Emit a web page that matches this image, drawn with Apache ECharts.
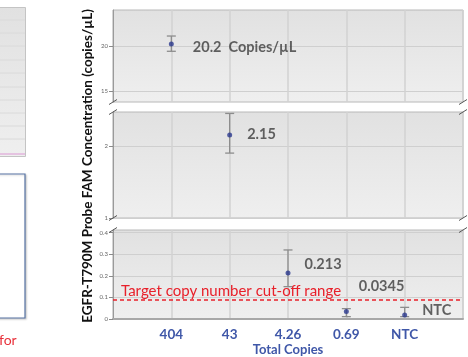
<!DOCTYPE html>
<html>
<head>
<meta charset="utf-8">
<script src="https://cdn.jsdelivr.net/npm/echarts@6/dist/echarts.min.js"></script>
<style>
  html, body { margin: 0; padding: 0; background: #ffffff; }
  #chart { width: 468px; height: 357px; }
</style>
</head>
<body>
<div id="chart"></div>
<script>
// ---- data ----
const categories = ['404', '43', '4.26', '0.69', 'NTC'];
const concentration = [20.2, 2.15, 0.213, 0.0345, 0.018];
const ciLow = [19.4, 1.9, 0.15, 0.011, 0.011];
const ciHigh = [21.1, 2.45, 0.32, 0.048, 0.054];
const pointLabels = ['20.2  Copies/\u00b5L', '2.15', '0.213', '0.0345', 'NTC'];
const cutoff = 0.085;
const cutoffLabel = 'Target copy number cut-off range';
const panelRanges = [[13.75, 24], [1, 2.47], [0, 0.4125]];
const panelTicks = [[15, 20], [1, 2], [0, 0.1, 0.2, 0.3, 0.4]];
const yTitle = 'EGFR-T790M Probe FAM Concentration (copies/\u00b5L)';
const xTitle = 'Total Copies';

// ---- layout ----
const PLOT_LEFT = 113, PLOT_RIGHT = 463;
const panels = [
  { top: 10, height: 92 },
  { top: 112, height: 106 },
  { top: 230, height: 89 }
];
const labelOffsets = [[14, 3], [10, -1], [9, -9], [5, -25], [10, -5]];
const FONT = 'Lato, "Open Sans", sans-serif';

const chart = echarts.init(document.getElementById('chart'));

const panelBg = {
  type: 'linear', x: 0, y: 0, x2: 0, y2: 1,
  colorStops: [{ offset: 0, color: '#e1e1e1' }, { offset: 1, color: '#efefef' }]
};

const grids = panels.map(p => ({
  left: PLOT_LEFT, right: 468 - PLOT_RIGHT, top: p.top, height: p.height,
  outerBoundsMode: 'none', containLabel: false,
  show: true, backgroundColor: panelBg, borderColor: '#b8b8b8', borderWidth: 1
}));

const xAxes = panels.map((p, i) => ({
  type: 'value', gridIndex: i, min: 0, max: 6, interval: 1,
  axisLine: { show: i === 2, lineStyle: { color: '#a8a8a8', width: 2 } },
  axisTick: { show: false },
  splitLine: { show: true, lineStyle: { color: '#d2d2d2', width: 1.5 } },
  axisLabel: {
    show: i === 2, margin: 9,
    color: '#3f57a8', fontWeight: 'bold', fontSize: 13.5, fontFamily: FONT,
    formatter: v => categories[v - 1] || ''
  },
  name: i === 2 ? xTitle : '',
  nameLocation: 'middle', nameGap: 24,
  nameTextStyle: { color: '#3f57a8', fontWeight: 'bold', fontSize: 13, fontFamily: FONT }
}));

const yAxes = panels.map((p, i) => ({
  type: 'value', gridIndex: i, min: panelRanges[i][0], max: panelRanges[i][1],
  axisLine: { show: true, lineStyle: { color: '#9a9a9a', width: 1 } },
  axisTick: { show: true, length: 4, lineStyle: { color: '#8a8a8a' }, customValues: panelTicks[i] },
  axisLabel: { color: '#666', fontSize: 6, margin: 5, fontFamily: FONT, customValues: panelTicks[i] },
  splitLine: { show: true, lineStyle: { color: '#cfcfcf', width: 1 } }
}));

// assign each point to the panel whose range holds it
function panelOf(v) {
  for (let i = 0; i < panelRanges.length; i++) {
    if (v >= panelRanges[i][0] && v <= panelRanges[i][1]) return i;
  }
  return panelRanges.length - 1;
}

const series = [];
panels.forEach((p, pi) => {
  const idx = concentration.map((v, k) => k).filter(k => panelOf(concentration[k]) === pi);
  series.push({
    type: 'custom', xAxisIndex: pi, yAxisIndex: pi, z: 3,
    data: idx.map(k => [k + 1, concentration[k], ciLow[k], ciHigh[k]]),
    renderItem: (params, api) => {
      const x = api.value(0);
      const lo = api.coord([x, api.value(2)]);
      const hi = api.coord([x, api.value(3)]);
      const w = 4.5;
      const st = { stroke: '#8c8c8c', lineWidth: 1.3 };
      return {
        type: 'group',
        children: [
          { type: 'line', shape: { x1: lo[0], y1: lo[1], x2: hi[0], y2: hi[1] }, style: st },
          { type: 'line', shape: { x1: lo[0] - w, y1: lo[1], x2: lo[0] + w, y2: lo[1] }, style: st },
          { type: 'line', shape: { x1: hi[0] - w, y1: hi[1], x2: hi[0] + w, y2: hi[1] }, style: st }
        ]
      };
    },
    silent: true
  });
  const scatter = {
    type: 'scatter', xAxisIndex: pi, yAxisIndex: pi, z: 4,
    symbol: 'circle', symbolSize: 5,
    itemStyle: { color: '#2c3a8e' },
    data: idx.map(k => ({
      value: [k + 1, concentration[k]],
      label: {
        show: true, position: 'right', offset: labelOffsets[k],
        formatter: pointLabels[k],
        color: '#3c3c3c', fontWeight: 'bold', fontSize: 14.5, fontFamily: FONT
      }
    }))
  };
  if (pi === 2) {
    scatter.markLine = {
      silent: true, symbol: 'none',
      lineStyle: { color: '#e8202a', type: [4, 3], width: 1.5 },
      label: {
        show: true, position: 'insideStartTop', formatter: cutoffLabel,
        color: '#e8202a', fontSize: 15, fontFamily: FONT, distance: [8, 1]
      },
      data: [{ yAxis: cutoff }]
    };
  }
  series.push(scatter);
});

// axis-break marks, y-axis title and the neighbouring figure's edge
const graphics = [];
const breakYs = [panels[0].top + panels[0].height, panels[1].top,
                 panels[1].top + panels[1].height, panels[2].top];
[PLOT_LEFT, PLOT_RIGHT].forEach(x => {
  breakYs.forEach(y => {
    graphics.push({
      type: 'line', shape: { x1: x - 4, y1: y + 2.5, x2: x + 4, y2: y - 2.5 },
      style: { stroke: '#555', lineWidth: 1 }, z: 10
    });
  });
});
graphics.push({
  type: 'text', x: 88, y: 166, rotation: Math.PI / 2,
  style: {
    text: yTitle, fill: '#111', font: 'bold 13.5px ' + FONT,
    align: 'center', verticalAlign: 'middle'
  }
});
// partial neighbouring panel on the far left
graphics.push({
  type: 'rect', shape: { x: -10, y: 7.5, width: 35.5, height: 149 },
  style: { fill: panelBg, stroke: '#c4c4c4', lineWidth: 1 }
});
[20, 33, 46, 60, 73, 87, 100, 113, 126, 139].forEach(y => {
  graphics.push({
    type: 'line', shape: { x1: 0, y1: y, x2: 25, y2: y },
    style: { stroke: '#dadada', lineWidth: 1 }
  });
});
graphics.push({
  type: 'line', shape: { x1: 0, y1: 154, x2: 25, y2: 154 },
  style: { stroke: '#e2b4dc', lineWidth: 1.5 }
});
graphics.push({
  type: 'rect', shape: { x: -10, y: 174, width: 35, height: 144 },
  style: { fill: '#ffffff', stroke: '#5875a6', lineWidth: 1.2, shadowColor: 'rgba(0,0,0,0.2)', shadowBlur: 2, shadowOffsetX: 1, shadowOffsetY: 1 }
});
graphics.push({
  type: 'text', x: -1, y: 340,
  style: { text: 'for', fill: '#e8303a', font: '14px ' + FONT, verticalAlign: 'middle' }
});

chart.setOption({
  animation: false,
  grid: grids,
  xAxis: xAxes,
  yAxis: yAxes,
  series: series,
  graphic: graphics
});
</script>
</body>
</html>
